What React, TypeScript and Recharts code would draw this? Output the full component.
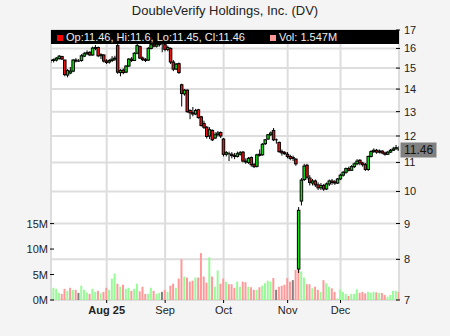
import React from "react";
import { ComposedChart, Bar, XAxis, YAxis, CartesianGrid, ReferenceLine, Cell } from "recharts";

const W = 450;
const H = 336;
const FONT = "'Liberation Sans', Arial, Helvetica, sans-serif";

const UP = "#11dd11";
const DOWN = "#ee1111";
const VOL_UP = "#98fb98";
const VOL_DOWN = "#ff9999";
const VOL_FLAT = "#808080";

// daily bars, Jul 3 2025 .. Dec 31 2025 (index = trading day)
const opens = [
  15.35, 15.38, 15.4, 15.48, 15.58, 15.4, 14.66, 14.76, 14.85, 15.4,
  15.35, 15.38, 15.6, 15.72, 15.8, 15.66, 16.0, 16.05, 15.62, 15.66,
  15.35, 15.3, 15.38, 15.45, 16.15, 14.78, 14.9, 14.8, 15.1, 15.45,
  15.38, 15.75, 16.1, 15.5, 15.42, 15.4, 16.0, 16.2, 16.12, 16.2,
  16.22, 16.2, 15.95, 16.0, 15.3, 14.95, 15.22, 14.2, 13.78, 13.95,
  13.05, 12.95, 12.9, 13.08, 12.78, 12.5, 12.35, 12.0, 12.22, 11.92,
  12.05, 12.14, 11.88, 11.3, 11.32, 11.3, 11.25, 11.22, 11.3, 11.38,
  11.05, 11.0, 11.18, 10.92, 10.86, 11.3, 11.28, 11.7, 11.88, 12.05,
  12.22, 11.85, 11.75, 11.4, 11.36, 11.3, 11.22, 11.18, 11.12, 7.75,
  9.69, 10.4, 10.9, 10.45, 10.28, 10.35, 10.22, 10.12, 10.2, 10.08,
  10.25, 10.35, 10.32, 10.28, 10.42, 10.55, 10.65, 10.78, 10.72, 10.85,
  10.95, 11.08, 10.98, 10.92, 10.75, 11.22, 11.4, 11.45, 11.38, 11.42,
  11.35, 11.3, 11.38, 11.45, 11.5, 11.46,
];
const highs = [
  15.45, 15.48, 15.55, 15.66, 15.62, 15.42, 14.95, 15.05, 15.45, 15.5,
  15.45, 15.7, 15.82, 15.9, 15.85, 16.1, 16.18, 16.1, 15.75, 15.7,
  15.45, 15.45, 15.6, 15.62, 16.3, 14.95, 14.98, 15.15, 15.5, 15.55,
  15.8, 16.25, 16.15, 15.58, 15.5, 16.08, 16.3, 16.3, 16.28, 16.35,
  16.3, 16.25, 16.15, 16.05, 15.4, 15.25, 15.28, 14.25, 14.0, 13.98,
  13.1, 13.2, 13.12, 13.12, 12.82, 12.62, 12.4, 12.35, 12.26, 12.15,
  12.2, 12.18, 11.92, 11.42, 11.4, 11.38, 11.35, 11.4, 11.42, 11.42,
  11.15, 11.2, 11.22, 10.98, 11.32, 11.48, 11.72, 11.88, 12.08, 12.18,
  12.32, 11.9, 11.78, 11.48, 11.42, 11.38, 11.28, 11.25, 11.16, 9.5,
  10.45, 10.95, 10.95, 10.55, 10.42, 10.4, 10.3, 10.28, 10.25, 10.3,
  10.4, 10.42, 10.38, 10.45, 10.6, 10.7, 10.82, 10.85, 10.9, 11.0,
  11.12, 11.12, 11.02, 10.98, 11.25, 11.45, 11.52, 11.5, 11.48, 11.45,
  11.4, 11.42, 11.5, 11.58, 11.65, 11.6,
];
const lows = [
  15.25, 15.28, 15.33, 15.42, 15.4, 14.6, 14.55, 14.7, 14.8, 15.28,
  15.3, 15.32, 15.55, 15.65, 15.6, 15.62, 15.9, 15.55, 15.45, 15.28,
  15.2, 15.22, 15.3, 15.35, 14.72, 14.6, 14.7, 14.75, 15.05, 15.3,
  15.35, 15.7, 15.45, 15.35, 15.3, 15.35, 15.95, 16.05, 16.05, 16.1,
  15.8, 15.85, 15.85, 15.2, 14.85, 14.9, 14.72, 13.22, 13.7, 12.95,
  12.68, 12.8, 12.85, 12.7, 12.38, 12.28, 11.9, 11.88, 11.8, 11.88,
  11.98, 11.92, 11.22, 11.22, 11.05, 11.15, 11.12, 11.18, 11.25, 11.0,
  10.95, 10.95, 10.85, 10.8, 10.82, 11.22, 11.25, 11.65, 11.85, 12.0,
  11.8, 11.7, 11.35, 11.25, 11.28, 11.15, 11.08, 11.05, 10.88, 7.65,
  9.55, 10.35, 10.4, 10.2, 10.2, 10.15, 10.05, 10.05, 10.02, 10.05,
  10.18, 10.22, 10.22, 10.25, 10.38, 10.5, 10.6, 10.68, 10.7, 10.8,
  10.9, 10.9, 10.85, 10.7, 10.7, 11.18, 11.35, 11.32, 11.33, 11.3,
  11.25, 11.28, 11.35, 11.42, 11.48, 11.45,
];
const closes = [
  15.38, 15.42, 15.5, 15.6, 15.45, 14.68, 14.88, 14.85, 15.4, 15.35,
  15.35, 15.62, 15.72, 15.78, 15.66, 16.02, 16.05, 15.62, 15.68, 15.35,
  15.28, 15.38, 15.45, 15.5, 14.8, 14.88, 14.78, 15.1, 15.45, 15.38,
  15.75, 16.15, 15.5, 15.42, 15.38, 16.0, 16.2, 16.12, 16.22, 16.25,
  16.25, 15.95, 16.05, 15.3, 14.95, 15.2, 14.78, 13.8, 13.95, 13.0,
  12.95, 12.9, 13.05, 12.75, 12.42, 12.35, 11.98, 12.25, 11.85, 12.05,
  12.12, 12.0, 11.3, 11.36, 11.3, 11.25, 11.22, 11.32, 11.36, 11.05,
  11.02, 11.15, 10.92, 10.85, 11.28, 11.26, 11.68, 11.85, 12.05, 12.12,
  11.85, 11.85, 11.4, 11.35, 11.32, 11.22, 11.15, 11.15, 10.95, 9.4,
  10.38, 10.87, 10.48, 10.3, 10.35, 10.22, 10.12, 10.2, 10.08, 10.25,
  10.35, 10.3, 10.28, 10.42, 10.55, 10.65, 10.78, 10.72, 10.85, 10.95,
  11.05, 10.98, 10.92, 10.75, 11.22, 11.4, 11.45, 11.38, 11.42, 11.35,
  11.3, 11.38, 11.45, 11.5, 11.55, 11.46,
];
// volume, millions of shares
const volumes = [
  2.0, 2.4, 2.2, 1.4, 1.2, 2.2, 1.8, 2.4, 2.0, 2.0,
  1.4, 2.8, 2.0, 1.5, 1.2, 2.2, 1.6, 1.8, 1.3, 1.6,
  2.4, 2.0, 4.2, 5.2, 3.2, 2.6, 3.0, 2.2, 2.4, 1.8,
  2.2, 3.2, 1.7, 2.6, 1.2, 1.2, 2.4, 1.8, 1.2, 1.4,
  1.6, 2.0, 1.6, 2.8, 3.2, 2.4, 4.2, 8.0, 4.6, 4.4,
  3.6, 3.8, 4.4, 4.4, 9.2, 4.6, 3.4, 8.4, 4.6, 2.6,
  5.8, 3.2, 4.2, 3.6, 3.1, 3.1, 2.4, 3.6, 2.6, 3.6,
  3.5, 2.6, 2.5, 2.0, 2.0, 2.5, 2.8, 3.3, 3.8, 3.6,
  4.3, 2.0, 2.6, 2.8, 3.0, 4.3, 3.6, 3.9, 5.9, 5.9,
  5.6, 4.4, 3.1, 3.1, 2.3, 2.6, 2.0, 1.6, 3.9, 3.3,
  2.6, 2.3, 1.6, 0.3, 2.1, 1.6, 1.2, 0.8, 1.2, 1.2,
  2.1, 1.4, 1.6, 1.3, 1.6, 1.4, 1.6, 1.5, 1.4, 1.4,
  1.0, 0.65, 1.0, 1.8, 1.8, 1.547,
];

const monthTicks = [20, 41, 62, 85, 104];
const monthLabels = ["Aug 25", "Sep", "Oct", "Nov", "Dec"];
const priceTicks = [7, 8, 9, 10, 11, 12, 13, 14, 15, 16, 17];
const volTicks = [0, 5, 10, 15];

const data = opens.map((o, i) => ({
  i,
  open: o,
  high: highs[i],
  low: lows[i],
  close: closes[i],
  vol: volumes[i],
}));

const last = data[data.length - 1];

function volColor(i: number) {
  if (i === 0) return VOL_UP;
  const d = closes[i] - closes[i - 1];
  if (d > 0) return VOL_UP;
  if (d < 0) return VOL_DOWN;
  return VOL_FLAT;
}

function Candle(props: any) {
  const { x, y, width, height, payload } = props;
  if (x == null || y == null) return null;
  const cx = x + width / 2;
  const { open, close, high, low } = payload;
  const span = Math.log(high) - Math.log(low);
  const toY = (p: number) => (span > 0 ? y + ((Math.log(high) - Math.log(p)) / span) * height : y);
  const yo = toY(open);
  const yc = toY(close);
  const top = Math.min(yo, yc);
  const bot = Math.max(yo, yc);
  return (
    <g>
      <line x1={cx} x2={cx} y1={y} y2={y + height} stroke="#000" strokeWidth={1} />
      {bot - top < 0.6 ? (
        <line x1={cx - 1.5} x2={cx + 1.5} y1={top} y2={top} stroke="#000" strokeWidth={1} />
      ) : (
        <rect
          x={cx - 1.25}
          y={top}
          width={2.5}
          height={bot - top}
          fill={close > open ? UP : DOWN}
          stroke="#000"
          strokeWidth={1}
        />
      )}
    </g>
  );
}

const PriceTick = ({ x, y, payload }: any) => (
  <g>
    <line x1={x - 3} x2={x + 1} y1={y} y2={y} stroke="#000" />
    <text x={x + 5} y={y + 4} fontSize={11} fill="#222" fontFamily={FONT}>
      {payload.value}
    </text>
  </g>
);

const VolTick = ({ x, y, payload }: any) => (
  <g>
    <line x1={x - 1} x2={x + 3} y1={y} y2={y} stroke="#000" />
    <text x={x - 3} y={y + 4} fontSize={11} fill="#222" textAnchor="end" fontFamily={FONT}>
      {payload.value + "M"}
    </text>
  </g>
);

const DateTick = ({ x, y, payload }: any) => {
  const label = monthLabels[monthTicks.indexOf(payload.value)] ?? "";
  const hasYear = /\d/.test(label);
  return (
    <g>
      <line x1={x} x2={x} y1={y} y2={y + 3} stroke="#000" />
      <text
        x={x}
        y={y + 14}
        fontSize={11}
        fill="#222"
        textAnchor="middle"
        fontWeight={hasYear ? "bold" : "normal"}
        fontFamily={FONT}
      >
        {label}
      </text>
    </g>
  );
};

const PriceTag = ({ viewBox }: any) => {
  if (!viewBox) return null;
  const x0 = viewBox.x + viewBox.width + 1.5;
  return (
    <g>
      <rect x={x0} y={viewBox.y - 7.5} width={36} height={15} fill="#808080" />
      <text x={x0 + 18} y={viewBox.y + 4.5} fontSize={12} fill="#111" textAnchor="middle" fontFamily={FONT}>
        {last.close.toFixed(2)}
      </text>
    </g>
  );
};

export default function App() {
  return (
    <div
      style={{
        position: "absolute",
        left: 0,
        top: 0,
        width: W,
        height: H,
        background: "#f4f4f4",
        fontFamily: FONT,
        overflow: "hidden",
      }}
    >
      <ComposedChart width={W} height={H} data={data} margin={{ top: 30, right: 0, bottom: 0, left: 0 }}>
        <CartesianGrid xAxisId="x" yAxisId="price" stroke="#dddddd" strokeWidth={2} fill="#ffffff" />
        <XAxis
          xAxisId="x"
          dataKey="i"
          type="number"
          domain={[0, 125]}
          ticks={monthTicks}
          interval={0}
          allowDataOverflow
          axisLine={false}
          tickLine={false}
          tickSize={0}
          tickMargin={0}
          height={36}
          tick={<DateTick />}
        />
        <XAxis xAxisId="xv" dataKey="i" type="number" domain={[0, 125]} allowDataOverflow hide />
        <YAxis
          yAxisId="vol"
          orientation="left"
          domain={[0, 53]}
          ticks={volTicks}
          interval={0}
          width={51}
          axisLine={false}
          tickLine={false}
          tickSize={0}
          tickMargin={0}
          tick={<VolTick />}
        />
        <YAxis
          yAxisId="price"
          orientation="right"
          scale="log"
          domain={[7, 17]}
          ticks={priceTicks}
          interval={0}
          allowDataOverflow
          width={51}
          axisLine={false}
          tickLine={false}
          tickSize={0}
          tickMargin={0}
          tick={<PriceTick />}
        />
        <Bar xAxisId="xv" yAxisId="vol" dataKey="vol" barSize={2} isAnimationActive={false}>
          {data.map((d) => (
            <Cell key={d.i} fill={volColor(d.i)} />
          ))}
        </Bar>
        <Bar
          xAxisId="x"
          yAxisId="price"
          dataKey={(d: any) => [d.low, d.high]}
          barSize={3}
          shape={<Candle />}
          isAnimationActive={false}
        />
        <ReferenceLine
          xAxisId="x"
          yAxisId="price"
          y={last.close}
          stroke="none"
          label={{ content: (p: any) => <PriceTag viewBox={p.viewBox} /> }}
        />
      </ComposedChart>

      <div
        style={{
          position: "absolute",
          left: 0,
          top: 3,
          width: W,
          textAlign: "center",
          fontSize: 13,
          lineHeight: "16px",
          color: "#222",
        }}
      >
        DoubleVerify Holdings, Inc. (DV)
      </div>

      <div
        style={{
          position: "absolute",
          left: 51,
          top: 30,
          width: 348,
          height: 14,
          background: "#000",
          color: "#eeeeee",
          fontSize: 11,
          lineHeight: "14px",
          whiteSpace: "nowrap",
        }}
      >
        <span style={{ position: "absolute", left: 6, top: 5, width: 6, height: 6, background: "#ff0000" }} />
        <span style={{ position: "absolute", left: 15, top: 0 }}>
          {`Op:${last.open}, Hi:${last.high}, Lo:${last.low}, Cl:${last.close}`}
        </span>
        <span style={{ position: "absolute", left: 218.5, top: 5, width: 6, height: 6, background: VOL_DOWN }} />
        <span style={{ position: "absolute", left: 228, top: 0 }}>{`Vol: ${last.vol}M`}</span>
      </div>
    </div>
  );
}
